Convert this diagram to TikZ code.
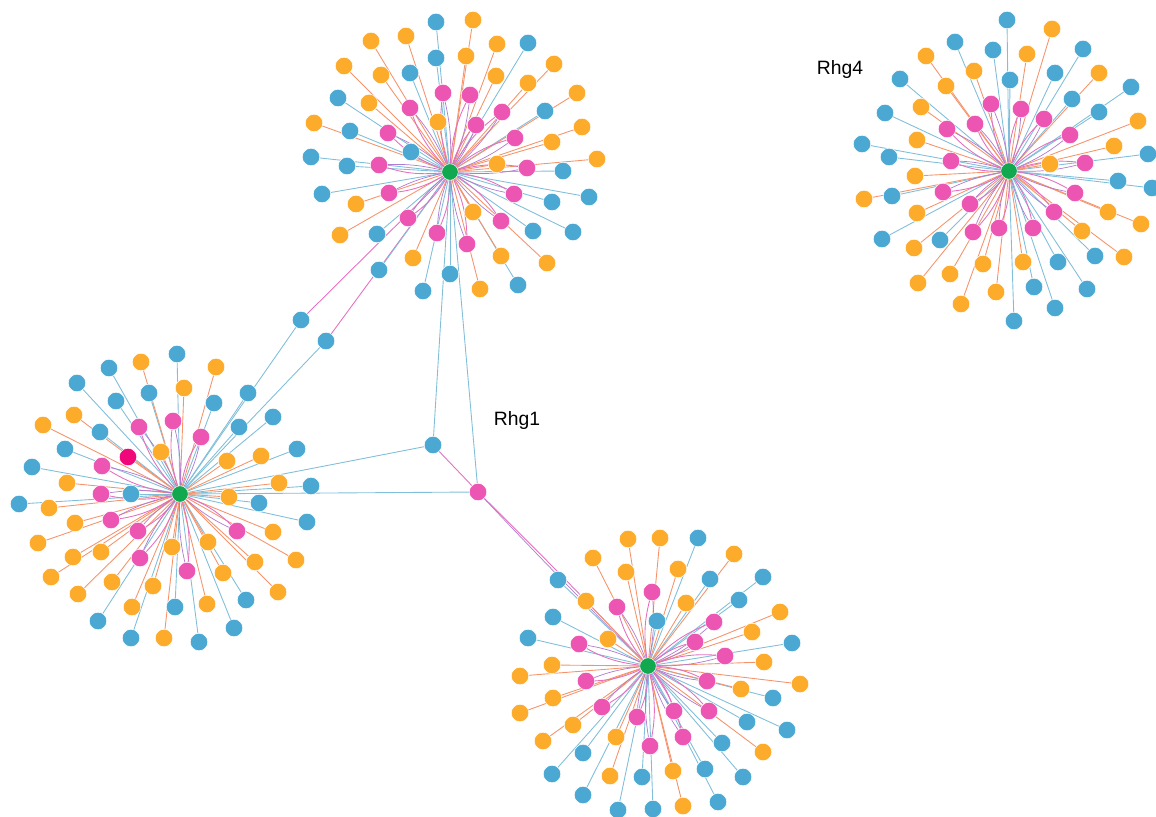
\documentclass[tikz,border=0pt]{standalone}
\usepackage{fontspec}
\setmainfont{Liberation Sans}

% palette
\definecolor{dotblue}{RGB}{75,168,210}
\definecolor{dotorange}{RGB}{253,171,43}
\definecolor{dotpink}{RGB}{236,86,178}
\definecolor{hotpink}{RGB}{240,8,122}
\definecolor{hubgreen}{RGB}{18,168,80}
\definecolor{lineblue}{RGB}{128,190,218}
\definecolor{lineorange}{RGB}{245,148,108}
\definecolor{linepink}{RGB}{228,112,192}
\definecolor{lineviolet}{RGB}{176,122,208}

\tikzset{
  dot/.style={circle, inner sep=0pt, minimum size=0.35cm, draw=white, line width=0.3pt},
  hub/.style={dot, fill=hubgreen, minimum size=0.33cm},
  blue leaf/.style={dot, fill=dotblue},
  orange leaf/.style={dot, fill=dotorange},
  pink leaf/.style={dot, fill=dotpink},
  blue link/.style={draw=lineblue, line width=0.5pt},
  orange link/.style={draw=lineorange, line width=0.5pt},
  pink link/.style={draw=linepink, line width=0.5pt},
  violet link/.style={draw=lineviolet, line width=0.4pt},
  tag/.style={font=\fontsize{11}{13}\selectfont, inner sep=0pt}
}

% leaf positions (x/y, pixels from the top left)
\newcommand{\topblue}{436/22,436/58,410/73,528/43,338/98,545/111,350/131,411/152,311/157,347/166,563/171,322/194,589/197,552/202,377/234,533/231,573/232,379/270,450/274,423/291,518/285}
\newcommand{\toporange}{473/20,371/41,406/36,497/44,344/66,381/75,466/56,496/76,554/64,528/83,577/93,369/103,314/123,438/122,582/127,552/142,597/159,497/164,356/204,473/212,340/235,413/258,501/256,547/263,480/289}
\newcommand{\toppink}{443/93,470/95,410/108,502/112,476/125,388/133,515/138,379/165,527/168,389/193,514/194,408/218,501/221,437/233,467/244}
\newcommand{\leftblue}{177/354,109/368,77/383,149/393,116/401,214/403,248/393,273/417,239/427,100/432,65/449,297/449,32/467,311/486,131/494,19/504,259/503,307/522,246/600,175/607,98/621,234/628,131/638,199/642}
\newcommand{\leftorange}{141/362,216/367,184/388,74/415,43/425,161/452,227/461,261/456,67/483,279/483,229/497,49/508,75/523,273/532,38/543,208/542,172/547,73/557,101/552,296/560,255/562,223/573,51/577,112/582,153/586,78/594,278/592,132/607,207/604,164/638}
\newcommand{\leftpink}{139/427,173/421,201/437,102/466,101/494,111/520,138/531,237/531,140/558,187/571}
\newcommand{\bottomblue}{698/538,558/580,710/579,763/577,739/600,553/617,657/621,528/638,792/643,773/698,747/722,787/730,722/743,583/753,705/769,552/774,642/777,743/777,583/795,718/802,618/810,653/809}
\newcommand{\bottomorange}{628/539,660/538,593/558,734/554,626/572,678/569,586/601,686/603,780/612,752/632,608/639,552/665,764/662,520/676,800/684,741/689,553/698,520/713,573/725,543/741,616/737,763/752,673/771,610/776,683/806}
\newcommand{\bottompink}{652/592,617/607,714/622,695/642,579/644,725/656,586/681,707/681,602/707,674/711,709/711,637/717,683/737,650/746}
\newcommand{\rightblue}{1007/20,955/42,993/50,1083/49,900/79,1010/80,1055/73,1131/87,1072/99,1099/112,885/113,862/144,889/157,1148/154,1118/181,1152/188,892/196,882/239,940/240,1095/256,1058/262,1034/287,1087/289,1055/308,1014/321}
\newcommand{\rightorange}{1052/29,926/56,1027/54,974/71,1099/73,946/86,921/107,1138/121,917/140,1114/146,1050/164,915/176,864/199,917/213,1108/212,1141/224,1082/231,914/248,1124/257,983/264,1023/262,950/274,918/283,996/292,961/304}
\newcommand{\rightpink}{991/104,1021/109,975/124,1044/119,947/129,1070/135,951/161,1085/163,943/192,1075/193,970/204,1054/212,973/232,999/228,1033/228}

% straight spokes: hub, colour, name prefix, list
\newcommand{\spokes}[4]{%
  \foreach \x/\y [count=\i] in #4 {
    \coordinate (#3\i) at (\x,\y);
    \draw[#2 link] (#1) -- (#3\i);
  }}
% pink spokes come in curved pairs
\newcommand{\pinkspokes}[3]{%
  \foreach \x/\y [count=\i] in #3 {
    \coordinate (#2\i) at (\x,\y);
    \draw[pink link] (#1) to[bend left=12] (#2\i);
    \draw[violet link] (#1) to[bend right=8] (#2\i);
  }}
% the dots go on top: colour, name prefix, list
\newcommand{\leaves}[3]{%
  \foreach \x/\y [count=\i] in #3
    \node[#1 leaf] (#2\i) at (\x,\y) {};}

\begin{document}
\begin{tikzpicture}[x=0.02cm, y=-0.02cm]
  \useasboundingbox (0,0) rectangle (1156,817);

  % hubs
  \node[hub] (top) at (450,172) {};
  \node[hub] (left) at (180,494) {};
  \node[hub] (bottom) at (648,666) {};
  \node[hub] (right) at (1009,171) {};

  % shared genes between the hubs
  \coordinate (bridge1) at (301,320);
  \coordinate (bridge2) at (326,341);
  \coordinate (bridge3) at (433,445);
  \coordinate (bridge4) at (478,492);
  \draw[blue link] (left) -- (bridge1);
  \draw[blue link] (left) -- (bridge2);
  \draw[pink link] (bridge1) -- (top);
  \draw[pink link] (bridge2) -- (top);
  \draw[blue link] (top) -- (bridge3);
  \draw[blue link] (left) -- (bridge3);
  \draw[pink link] (bridge3) -- (bridge4);
  \draw[blue link] (top) -- (bridge4);
  \draw[blue link] (left) -- (bridge4);
  \draw[pink link] (bridge4) to[bend left=1] (bottom);
  \draw[violet link] (bridge4) to[bend right=1] (bottom);

  % spokes
  \spokes{top}{blue}{top-b}{\topblue}
  \spokes{top}{orange}{top-o}{\toporange}
  \pinkspokes{top}{top-p}{\toppink}
  \spokes{left}{blue}{left-b}{\leftblue}
  \spokes{left}{orange}{left-o}{\leftorange}
  \pinkspokes{left}{left-p}{\leftpink}
  \coordinate (left-x) at (128,457);
  \draw[orange link] (left) -- (left-x);
  \spokes{bottom}{blue}{bottom-b}{\bottomblue}
  \spokes{bottom}{orange}{bottom-o}{\bottomorange}
  \pinkspokes{bottom}{bottom-p}{\bottompink}
  \spokes{right}{blue}{right-b}{\rightblue}
  \spokes{right}{orange}{right-o}{\rightorange}
  \pinkspokes{right}{right-p}{\rightpink}

  % dots
  \leaves{blue}{top-b}{\topblue}
  \leaves{orange}{top-o}{\toporange}
  \leaves{pink}{top-p}{\toppink}
  \leaves{blue}{left-b}{\leftblue}
  \leaves{orange}{left-o}{\leftorange}
  \leaves{pink}{left-p}{\leftpink}
  \node[dot, fill=hotpink] (left-x) at (128,457) {};
  \leaves{blue}{bottom-b}{\bottomblue}
  \leaves{orange}{bottom-o}{\bottomorange}
  \leaves{pink}{bottom-p}{\bottompink}
  \leaves{blue}{right-b}{\rightblue}
  \leaves{orange}{right-o}{\rightorange}
  \leaves{pink}{right-p}{\rightpink}
  \node[blue leaf] (bridge1) at (301,320) {};
  \node[blue leaf] (bridge2) at (326,341) {};
  \node[blue leaf] (bridge3) at (433,445) {};
  \node[pink leaf] (bridge4) at (478,492) {};

  % labels
  \node[tag] (rhg1) at (517,421) {Rhg1};
  \node[tag] (rhg4) at (840,70) {Rhg4};
\end{tikzpicture}
\end{document}
